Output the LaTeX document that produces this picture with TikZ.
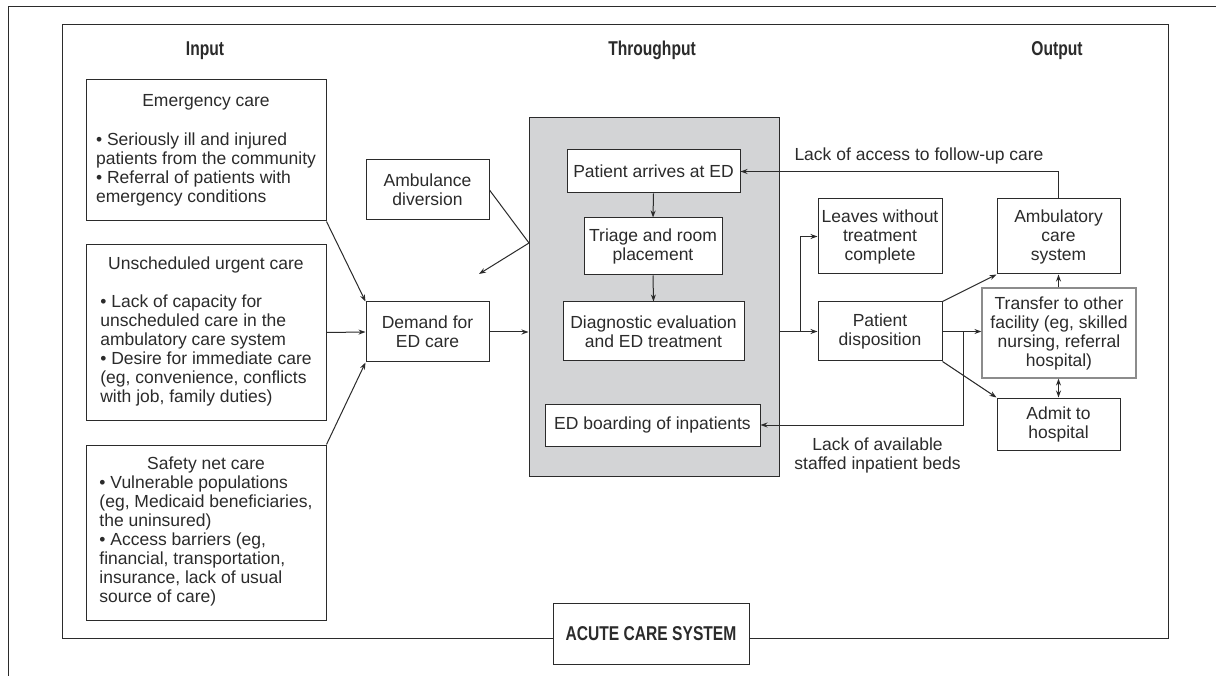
\documentclass[tikz,border=0pt]{standalone}
\usepackage{fontspec}
\setmainfont{Liberation Sans}
\newfontfamily\titlefont[FakeStretch=0.78]{Liberation Sans}
\usetikzlibrary{arrows.meta,calc}
\definecolor{ink}{HTML}{2B2B2B}
\definecolor{edgray}{HTML}{D3D4D6}
\definecolor{tfr}{HTML}{8C8C8C}
\begin{document}
\begin{tikzpicture}[x=1pt,y=-1pt,
  every node/.style={text=ink, font=\fontsize{17.5}{19}\selectfont, inner sep=0pt},
  box/.style={draw=ink, line width=1pt, fill=white, align=center},
  ttl/.style={font=\titlefont\bfseries\fontsize{20}{22}\selectfont, anchor=base},
  conn/.style={draw=ink, line width=1pt},
  arr/.style={conn, -{Stealth[length=7pt,width=5pt]}},
  dblarr/.style={conn, {Stealth[length=7pt,width=5pt]}-{Stealth[length=7pt,width=5pt]}},
]
\useasboundingbox (0,0) rectangle (1216,676);
\fill[white] (0,0) rectangle (1216,676);
% outer frame
\draw[conn] (8,676) -- (8,7) -- (1216,7);
% inner frame
\node[draw=ink, line width=1pt, minimum width=1106pt, minimum height=613pt] (frame) at (615,331.5) {};
% titles
\node[ttl] (tin) at (205,56) {Input};
\node[ttl] (tthr) at (652,56) {Throughput};
\node[ttl] (tout) at (1057,56) {Output};
% input boxes
\node[box, minimum width=240pt, minimum height=141pt] (emerg) at (206,150.5) {\begin{tabular}{@{}l@{}}\multicolumn{1}{@{}c@{}}{Emergency care}\\[20pt]
• Seriously ill and injured\\ patients from the community\\ • Referral of patients with\\ emergency conditions\end{tabular}};
\node[box, minimum width=240pt, minimum height=175pt] (unsch) at (206,332.5) {\begin{tabular}{@{}l@{}}\multicolumn{1}{@{}c@{}}{Unscheduled urgent care}\\[19pt]
• Lack of capacity for\\ unscheduled care in the\\ ambulatory care system\\ • Desire for immediate care\\ (eg, convenience, conflicts\\ with job, family duties)\end{tabular}};
\node[box, minimum width=240pt, minimum height=175pt] (safety) at (206,532.5) {\begin{tabular}{@{}l@{}}\multicolumn{1}{@{}c@{}}{Safety net care}\\
• Vulnerable populations\\ (eg, Medicaid beneficiaries,\\ the uninsured)\\ • Access barriers (eg,\\ financial, transportation,\\ insurance, lack of usual\\ source of care)\end{tabular}};
% middle-left boxes
\node[box, minimum width=123pt, minimum height=60pt] (amb) at (427.5,190) {Ambulance\\diversion};
\node[box, minimum width=123pt, minimum height=60pt] (demand) at (427.5,332) {Demand for\\ED care};
% throughput
\node[draw=ink, fill=edgray, line width=1pt, minimum width=250pt, minimum height=358pt] (gray) at (654,297) {};
\node[box, minimum width=173pt, minimum height=43pt] (arrive) at (653.5,171.5) {Patient arrives at ED};
\node[box, minimum width=138pt, minimum height=57pt] (triage) at (653,246.5) {Triage and room\\placement};
\node[box, minimum width=181pt, minimum height=59pt] (diag) at (653.5,331.5) {Diagnostic evaluation\\and ED treatment};
\node[box, minimum width=215pt, minimum height=42pt] (board) at (652.5,425) {ED boarding of inpatients};
% output
\node[box, minimum width=124pt, minimum height=75pt] (leaves) at (880,236.5) {Leaves without\\treatment\\complete};
\node[box, minimum width=124pt, minimum height=59pt] (disp) at (880,331.5) {Patient\\disposition};
\node[box, minimum width=123pt, minimum height=75pt] (ambc) at (1058.5,236.5) {Ambulatory\\care\\system};
\node[box, draw=tfr, line width=1.2pt, minimum width=154pt, minimum height=90pt] (transfer) at (1059,333) {Transfer to other\\facility (eg, skilled\\nursing, referral\\hospital)};
\node[box, minimum width=123pt, minimum height=52pt] (admit) at (1058.5,424) {Admit to\\hospital};
% acute care system label
\node[box, font=\titlefont\bfseries\fontsize{20}{22}\selectfont, minimum width=196pt, minimum height=61pt] (acs) at (651,633.5) {ACUTE CARE SYSTEM};
% connectors: input
\draw[arr] (emerg.south east) -- (demand.north west);
\draw[arr] (unsch.east) -- (demand.west);
\draw[arr] (safety.north east) -- (demand.south west);
\coordinate (ambk) at (529,243);
\coordinate (ambend) at (479,274);
\draw[conn] (amb.east) -- (ambk);
\draw[arr] (ambk) -- (ambend);
\draw[arr] (demand.east) -- (demand.east -| gray.west);
% throughput
\draw[arr] (arrive.south) -- (triage.north);
\draw[arr] (triage.south) -- (diag.north);
% output
\coordinate (gout) at (gray.east |- disp.west);
\coordinate (br1) at (800,331.5);
\draw[arr] (gout) -- (disp.west);
\draw[arr] (br1) |- (leaves.west);
\draw[arr] (disp.north east) -- (ambc.south west);
\draw[arr] (disp.east) -- (transfer.west |- disp.east);
\draw[arr] (disp.south east) -- (admit.north west);
\coordinate (br2) at (963,331.5);
\draw[arr] (br2) |- (board.east);
\draw[arr] (transfer.north -| ambc.south) -- (ambc.south);
\draw[dblarr] (transfer.south -| admit.north) -- (admit.north);
\draw[arr] (ambc.north) |- (arrive.east);
% labels
\node (lblaccess) at (919,156) {Lack of access to follow-up care};
\node[align=center] (lblbeds) at (877.5,455) {Lack of available\\staffed inpatient beds};
\end{tikzpicture}
\end{document}
